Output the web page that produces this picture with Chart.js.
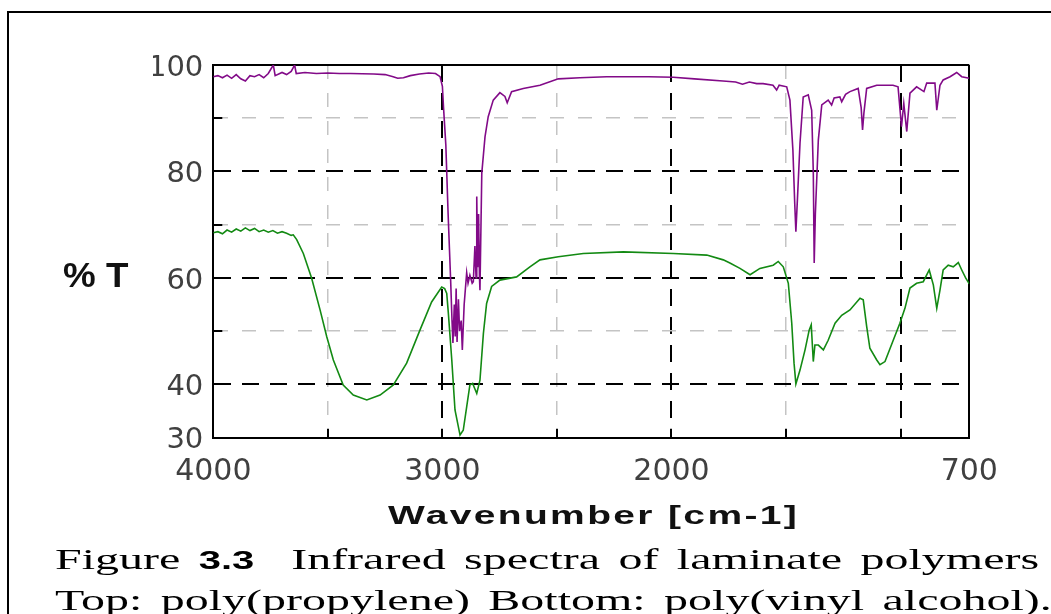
<!DOCTYPE html>
<html>
<head>
<meta charset="utf-8">
<script src="https://cdn.jsdelivr.net/npm/chart.js@4.4.1/dist/chart.umd.min.js"></script>
<style>
html,body{margin:0;padding:0;background:#fff;width:1051px;height:614px;overflow:hidden;}
#frame{position:absolute;left:7px;top:11px;width:2000px;height:2000px;border-left:2px solid #000;border-top:2px solid #000;}
#wrap{position:absolute;left:0;top:0;width:1051px;height:614px;}
.t{position:absolute;white-space:nowrap;transform-origin:0 0;line-height:1;color:#111;}
#ylab{left:63px;top:255.4px;font:bold 35px "Liberation Sans",Arial,sans-serif;transform:scaleX(1.05);}
#xlab{left:388px;top:500.8px;font:bold 25px "Liberation Sans",Arial,sans-serif;letter-spacing:1.5px;transform:scaleX(1.56);}
.cap{left:55px;font:30px "Liberation Serif","Times New Roman",serif;word-spacing:4px;transform:scaleX(1.6);color:#000;}
.cap b{font:bold 25px "Liberation Sans",Arial,sans-serif;}
#cap1{top:541.9px;}
#cap2{top:582.9px;}
</style>
</head>
<body>
<div id="frame"></div>
<div id="wrap"><canvas id="c"></canvas></div>
<div class="t" id="ylab">% T</div>
<div class="t" id="xlab">Wavenumber [cm-1]</div>
<div class="t cap" id="cap1">Figure <b>3.3</b>&nbsp; Infrared spectra of laminate polymers</div>
<div class="t cap" id="cap2">Top: poly(propylene) Bottom: poly(vinyl alcohol).</div>
<script>
// Top spectrum: poly(propylene)
const wavenumberPP = [4000,3980,3960,3940,3920,3900,3880,3860,3840,3820,3800,3780,3760,3738,3730,3700,3680,3660,3645,3638,3600,3550,3500,3450,3400,3300,3250,3215,3195,3170,3140,3100,3060,3030,3010,3000,2995,2985,2975,2964,2958,2954,2948,2944,2940,2936,2930,2925,2918,2913,2905,2894,2888,2880,2870,2865,2858,2853,2850,2846,2842,2838,2836,2828,2814,2800,2778,2749,2727,2717,2698,2647,2574,2494,2400,2283,2100,1992,1900,1775,1720,1690,1660,1628,1600,1557,1541,1530,1497,1483,1470,1462,1457,1450,1439,1425,1403,1388,1381,1377,1372,1359,1344,1316,1301,1290,1265,1257,1240,1221,1185,1172,1166,1160,1148,1104,1033,1011,996,986,973,959,930,898,886,850,842,828,814,784,755,733,700];
const transPP = [97.8,98.0,97.6,98.1,97.5,98.2,97.4,97.0,98.0,97.8,98.2,97.6,98.4,100.0,98.0,98.6,98.2,98.8,100.0,98.4,98.6,98.4,98.5,98.4,98.4,98.3,98.2,97.8,97.5,97.6,98.0,98.3,98.5,98.4,97.8,96.0,92.0,85.0,72.0,59.6,52.0,47.8,55.0,49.0,58.0,48.0,56.0,50.0,52.0,46.5,55.0,61.0,59.0,60.5,59.0,59.3,66.0,60.0,75.3,62.0,72.0,60.0,57.7,79.7,86.5,90.3,93.4,94.8,94.1,92.9,95.0,95.6,96.2,97.4,97.6,97.8,97.8,97.7,97.4,97.0,96.8,96.4,96.8,96.5,96.5,96.2,95.3,96.2,95.9,93.4,84.0,74.0,68.7,75.0,85.3,94.0,94.4,91.5,80.0,62.8,72.0,85.9,92.5,93.4,92.5,93.8,94.0,93.1,94.5,95.0,95.6,92.0,87.8,91.0,95.6,96.2,96.2,95.9,88.4,92.8,87.5,94.7,95.9,95.0,96.6,96.6,91.5,96.2,97.2,97.8,98.6,97.8,97.5];

// Bottom spectrum: poly(vinyl alcohol)
const wavenumberPVA = [4000,3980,3960,3940,3920,3900,3880,3860,3840,3820,3800,3780,3760,3740,3720,3700,3680,3660,3651,3636,3607,3571,3534,3505,3476,3433,3389,3330,3272,3214,3156,3098,3047,3003,2990,2981,2974,2959,2945,2923,2909,2894,2880,2868,2850,2836,2821,2807,2785,2749,2676,2618,2574,2494,2385,2210,1992,1846,1774,1745,1701,1657,1614,1556,1534,1512,1490,1475,1465,1457,1439,1417,1399,1390,1381,1374,1359,1337,1316,1286,1257,1221,1177,1163,1148,1134,1104,1090,1068,1032,1003,981,959,930,901,875,857,842,828,814,792,770,748,733,716,700];
const transPVA = [68.5,68.7,68.3,69.0,68.6,69.2,68.8,69.4,68.9,69.3,68.7,69.0,68.6,68.9,68.4,68.7,68.4,68.0,68.1,67.2,64.6,60.0,54.0,49.0,44.6,39.9,38.0,37.1,38.0,39.9,44.0,50.2,55.5,58.3,58.0,57.1,53.4,44.6,35.2,30.5,31.4,35.8,39.9,40.2,38.3,40.8,49.6,55.2,58.4,59.6,60.2,62.1,63.4,64.0,64.6,64.9,64.6,64.3,63.4,62.8,61.8,60.6,61.8,62.4,63.1,62.1,59.0,51.5,44.0,40.1,42.7,46.5,50.2,51.2,44.3,47.4,47.4,46.5,48.3,51.5,53.0,54.0,56.2,55.9,50.9,46.8,44.6,43.7,44.3,48.3,51.5,54.3,58.1,59.0,59.3,61.5,58.7,54.3,57.7,61.5,62.4,62.1,62.9,61.5,60.0,58.9];

// Axis ticks
const xTickValues = [4000,3500,3000,2500,2000,1500,1000,700];
const xTickLabels = ['4000','','3000','','2000','','','700'];
const xMajor = [3000,2000,1000];
const yTickValues = [30,40,50,60,70,80,90,100];
const yTickLabels = ['30','40','','60','','80','','100'];
const yMajor = [40,60,80];

const xMin = 700, xMax = 4000, yMin = 30, yMax = 100;

function gridKind(v, major, lo, hi) {
  if (v === lo || v === hi) return 'edge';
  return major.includes(v) ? 'major' : 'minor';
}
function makeGrid(major, lo, hi) {
  return {
    grid: {
      drawTicks: false,
      color: c => { const k = c.tick ? gridKind(c.tick.value, major, lo, hi) : 'edge'; return k === 'minor' ? '#c4c4c4' : '#000'; },
      lineWidth: c => { const k = c.tick ? gridKind(c.tick.value, major, lo, hi) : 'edge'; return k === 'minor' ? 1.5 : 2; }
    },
    border: {
      display: true, color: '#000', width: 2,
      dash: c => { const k = c.tick ? gridKind(c.tick.value, major, lo, hi) : 'edge'; return k === 'edge' ? [] : (k === 'major' ? [17, 11] : [14, 14]); }
    }
  };
}

const innerTicks = {
  id: 'innerTicks',
  afterDatasetsDraw(chart) {
    const {ctx, chartArea: a, scales: {x, y}} = chart;
    ctx.save();
    ctx.strokeStyle = '#000';
    ctx.lineWidth = 2;
    xTickValues.forEach(v => {
      if (v === xMin || v === xMax) return;
      const p = Math.round(x.getPixelForValue(v));
      ctx.beginPath(); ctx.moveTo(p, a.bottom); ctx.lineTo(p, a.bottom - 9); ctx.stroke();
    });
    yTickValues.forEach(v => {
      if (v === yMin || v === yMax) return;
      const p = Math.round(y.getPixelForValue(v));
      ctx.beginPath(); ctx.moveTo(a.left, p); ctx.lineTo(a.left + 9, p); ctx.stroke();
    });
    ctx.restore();
  }
};

const xg = makeGrid(xMajor, xMin, xMax);
const yg = makeGrid(yMajor, yMin, yMax);

new Chart(document.getElementById('c'), {
  type: 'line',
  data: {
    datasets: [
      { label: 'poly(propylene)', data: wavenumberPP.map((w, i) => ({x: w, y: transPP[i]})), borderColor: '#820a88', borderWidth: 1.6, pointRadius: 0, tension: 0, fill: false },
      { label: 'poly(vinyl alcohol)', data: wavenumberPVA.map((w, i) => ({x: w, y: transPVA[i]})), borderColor: '#138a13', borderWidth: 1.6, pointRadius: 0, tension: 0, fill: false }
    ]
  },
  options: {
    responsive: true,
    maintainAspectRatio: false,
    animation: false,
    layout: { padding: { left: 153, right: 81.7, top: 65, bottom: 116.3 } },
    plugins: { legend: { display: false }, tooltip: { enabled: false } },
    scales: {
      x: {
        type: 'linear', reverse: true, min: xMin, max: xMax,
        afterBuildTicks: s => { s.ticks = xTickValues.map(v => ({value: v})); },
        afterFit: s => { s.height = 60; },
        ticks: {
          autoSkip: false, maxRotation: 0, minRotation: 0, padding: 17,
          color: '#404040', font: { family: '"DejaVu Sans", sans-serif', size: 30 },
          callback: v => { const i = xTickValues.indexOf(v); return i >= 0 ? xTickLabels[i] : ''; }
        },
        grid: xg.grid, border: xg.border
      },
      y: {
        type: 'linear', min: yMin, max: yMax,
        afterBuildTicks: s => { s.ticks = yTickValues.map(v => ({value: v})); },
        afterFit: s => { s.width = 60.3; },
        ticks: {
          autoSkip: false, padding: 10, labelOffset: 3,
          color: '#404040', font: { family: '"DejaVu Sans", sans-serif', size: 29 },
          callback: v => { const i = yTickValues.indexOf(v); return i >= 0 ? yTickLabels[i] : ''; }
        },
        grid: yg.grid, border: yg.border
      }
    }
  },
  plugins: [innerTicks]
});
</script>
</body>
</html>
